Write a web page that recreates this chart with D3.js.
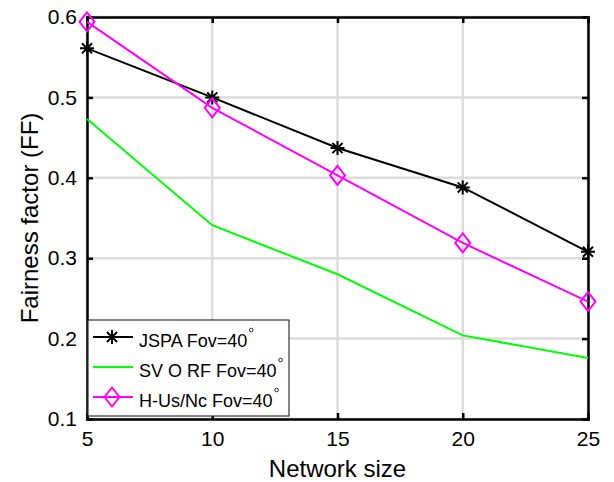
<!DOCTYPE html>
<html>
<head>
<meta charset="utf-8">
<script src="https://cdn.jsdelivr.net/npm/d3@7"></script>
<style>
  body { margin: 0; background: #fff; }
  text { font-family: "Liberation Sans", Arial, sans-serif; fill: #000; }
</style>
</head>
<body>
<div id="chart"></div>
<script>
// network sizes on the x axis
var sizes = [5, 10, 15, 20, 25];
// fairness factor per scheme
var jspa = [0.561, 0.500, 0.437, 0.388, 0.308];
var svorf = [0.473, 0.341, 0.280, 0.204, 0.176];
var husnc = [0.594, 0.487, 0.403, 0.319, 0.246];
var xTicks = [5, 10, 15, 20, 25];
var yTicks = [0.1, 0.2, 0.3, 0.4, 0.5, 0.6];
var names = ["JSPA Fov=40", "SV O RF Fov=40", "H-Us/Nc Fov=40"];

var W = 614, H = 482;
var m = {left: 87, right: 26, top: 17, bottom: 63};
var w = W - m.left - m.right, h = H - m.top - m.bottom;

var svg = d3.select("#chart").append("svg").attr("width", W).attr("height", H);
var g = svg.append("g").attr("transform", "translate(" + m.left + "," + m.top + ")");

var x = d3.scaleLinear().domain([5, 25]).range([0, w]);
var y = d3.scaleLinear().domain([0.1, 0.6]).range([h, 0]);

// grid
g.selectAll(".gx").data(xTicks).enter().append("line")
    .attr("x1", d => x(d)).attr("x2", d => x(d)).attr("y1", 0).attr("y2", h)
    .attr("stroke", "#dcdcdc").attr("stroke-width", 2.5);
g.selectAll(".gy").data(yTicks).enter().append("line")
    .attr("y1", d => y(d)).attr("y2", d => y(d)).attr("x1", 0).attr("x2", w)
    .attr("stroke", "#dcdcdc").attr("stroke-width", 2.5);

// axes (ticks inward)
var ax = g.append("g").attr("transform", "translate(0," + h + ")")
    .call(d3.axisBottom(x).tickValues(xTicks).tickSize(-6).tickPadding(12));
var ay = g.append("g")
    .call(d3.axisLeft(y).tickValues(yTicks).tickSize(-6).tickPadding(10).tickFormat(d3.format(".1f")));
g.append("g").call(d3.axisTop(x).tickValues(xTicks).tickSize(-6).tickFormat(""));
g.append("g").attr("transform", "translate(" + w + ",0)")
    .call(d3.axisRight(y).tickValues(yTicks).tickSize(-6).tickFormat(""));
g.selectAll(".domain").attr("stroke", "#000").attr("stroke-width", 2.5);
g.selectAll(".tick line").attr("stroke", "#000").attr("stroke-width", 2.5);
ax.attr("font-size", 21).attr("font-family", "Liberation Sans, Arial, sans-serif");
ay.attr("font-size", 21).attr("font-family", "Liberation Sans, Arial, sans-serif");
g.selectAll(".tick text").attr("fill", "#000");

// axis titles
svg.append("text").attr("x", m.left + w / 2).attr("y", 477).attr("text-anchor", "middle")
    .style("font-size", "24px").text("Network size");
svg.append("text").attr("transform", "translate(38," + (m.top + h / 2) + ") rotate(-90)")
    .attr("text-anchor", "middle").style("font-size", "24px").text("Fairness factor (FF)");

var line = d3.line().x((d, i) => x(sizes[i])).y(d => y(d));

function star(sel, r) {
  var p = "M" + (-r) + ",0H" + r + "M0," + (-r) + "V" + r;
  var k = r * 0.72;
  p += "M" + (-k) + "," + (-k) + "L" + k + "," + k + "M" + (-k) + "," + k + "L" + k + "," + (-k);
  sel.append("path").attr("d", p).attr("stroke", "#000").attr("stroke-width", 2).attr("fill", "none");
}
function diamond(sel, rw, rh) {
  sel.append("path").attr("d", "M0," + (-rh) + "L" + rw + ",0L0," + rh + "L" + (-rw) + ",0Z")
    .attr("stroke", "#ff00ff").attr("stroke-width", 2).attr("fill", "none");
}

g.append("path").datum(svorf).attr("d", line).attr("fill", "none").attr("stroke", "#00ff00").attr("stroke-width", 2);
g.append("path").datum(jspa).attr("d", line).attr("fill", "none").attr("stroke", "#000").attr("stroke-width", 2);
g.append("path").datum(husnc).attr("d", line).attr("fill", "none").attr("stroke", "#ff00ff").attr("stroke-width", 2);

jspa.forEach(function (v, i) {
  star(g.append("g").attr("transform", "translate(" + x(sizes[i]) + "," + y(v) + ")"), 7);
});
husnc.forEach(function (v, i) {
  diamond(g.append("g").attr("transform", "translate(" + x(sizes[i]) + "," + y(v) + ")"), 7.5, 9.5);
});

// legend
var lg = svg.append("g").attr("transform", "translate(88,320)");
lg.append("rect").attr("width", 201).attr("height", 96).attr("fill", "#fff")
  .attr("stroke", "#333").attr("stroke-width", 1.2);
var colors = ["#000", "#00ff00", "#ff00ff"];
var rowY = [17, 47, 77];
names.forEach(function (n, i) {
  var row = lg.append("g").attr("transform", "translate(0," + rowY[i] + ")");
  row.append("line").attr("x1", 5).attr("x2", 45).attr("stroke", colors[i]).attr("stroke-width", 2);
  if (i === 0) star(row.append("g").attr("transform", "translate(24,0)"), 7);
  if (i === 2) diamond(row.append("g").attr("transform", "translate(24,0)"), 7.5, 9.5);
  var t = row.append("text").attr("x", 51).attr("y", 10).style("font-size", "18px").text(n);
  var bb = t.node().getBBox();
  row.append("circle").attr("cx", 51 + bb.width + 4).attr("cy", -7).attr("r", 1.8)
    .attr("fill", "none").attr("stroke", "#000").attr("stroke-width", 0.8);
});
</script>
</body>
</html>
